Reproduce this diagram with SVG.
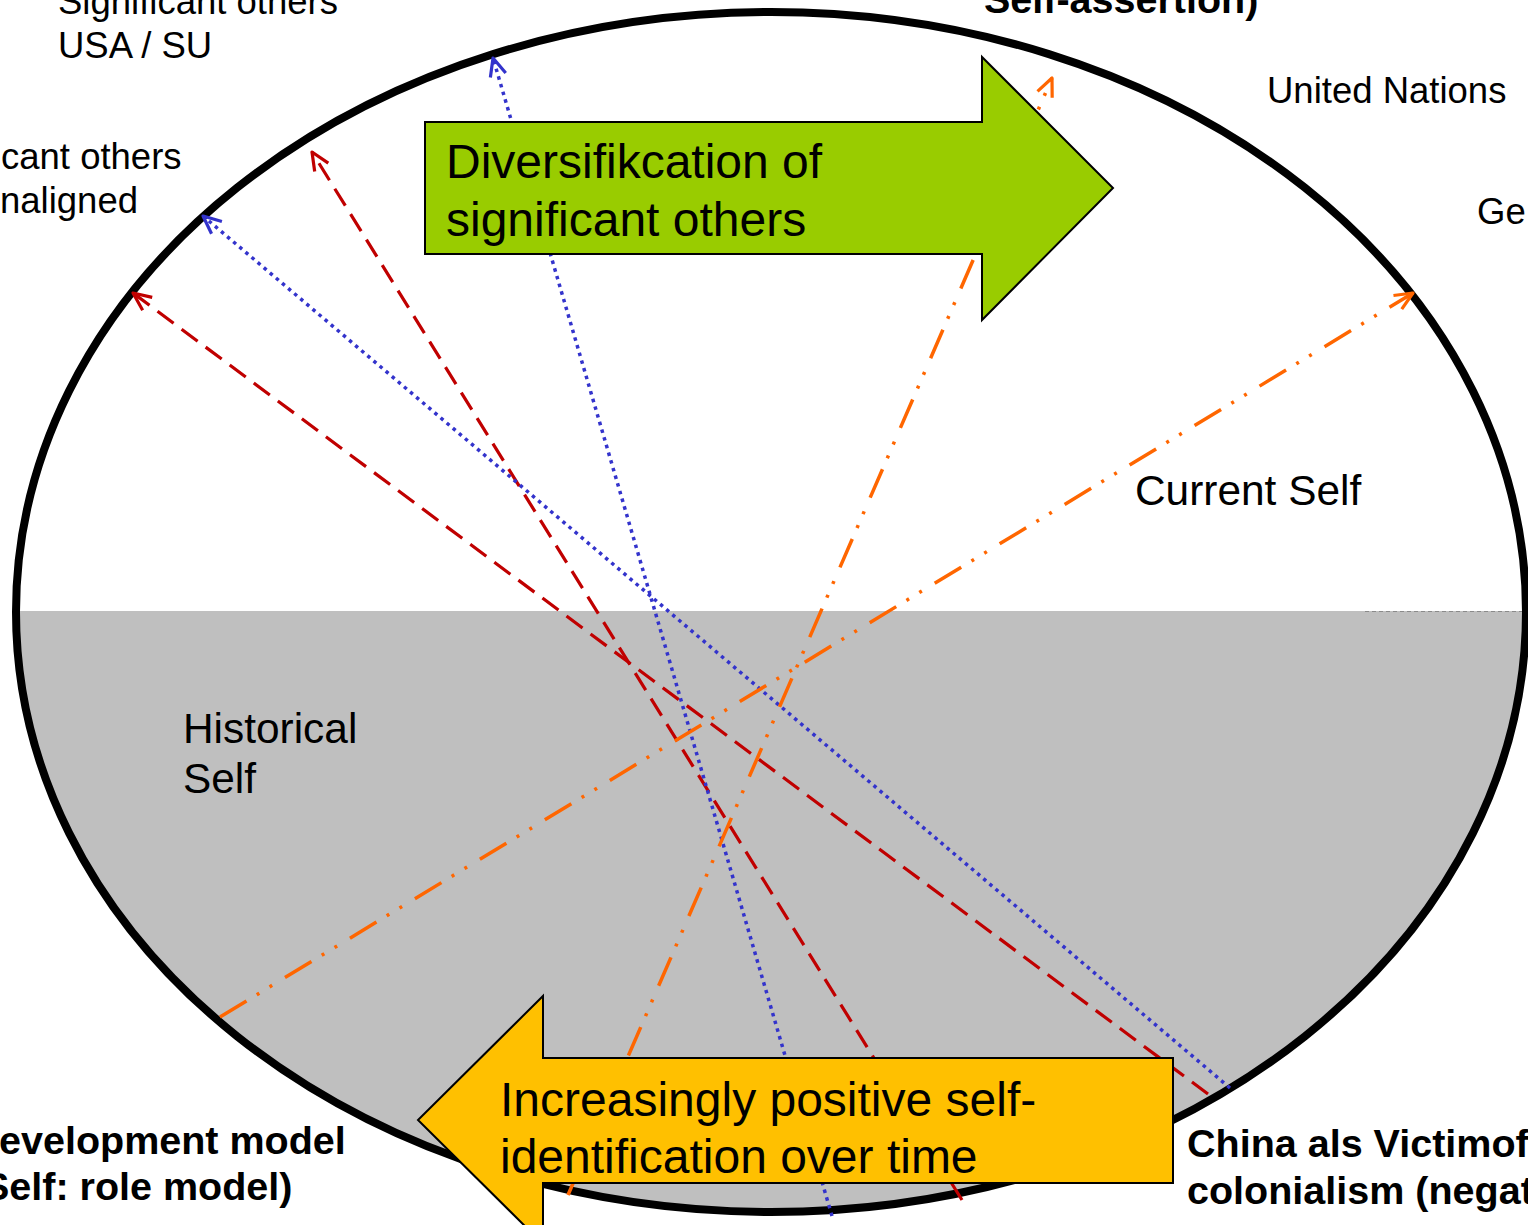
<svg xmlns="http://www.w3.org/2000/svg" width="1528" height="1225" viewBox="0 0 1528 1225">
<style>
  text { font-family: "Liberation Sans", Arial, sans-serif; fill: #000; }
  .lbl { font-size: 36.5px; }
  .big { font-size: 42.4px; }
  .bold { font-size: 39.5px; font-weight: bold; }
  .atxt { font-size: 48px; }
  .red { fill: none; stroke: #C00000; stroke-width: 3.2; stroke-dasharray: 20 10; }
  .blue { fill: none; stroke: #3333CC; stroke-width: 3.5; stroke-dasharray: 3.5 4.5; }
  .orange { fill: none; stroke: #FF6600; stroke-width: 3.5; stroke-dasharray: 31 12 3 12 3 15; }
  .block { stroke: #000; stroke-width: 2; stroke-linejoin: miter; }
</style>
<defs>
  <clipPath id="ellClip">
    <ellipse cx="771" cy="612" rx="755" ry="600"/>
  </clipPath>
  <marker id="mRed" viewBox="-22 -12 26 24" refX="0" refY="0" markerWidth="26" markerHeight="24" markerUnits="userSpaceOnUse" orient="auto" overflow="visible">
    <path d="M-18,-8 L0,0 L-18,8" fill="none" stroke="#C00000" stroke-width="3.2" stroke-linejoin="round"/>
  </marker>
  <marker id="mBlue" viewBox="-22 -12 26 24" refX="0" refY="0" markerWidth="26" markerHeight="24" markerUnits="userSpaceOnUse" orient="auto" overflow="visible">
    <path d="M-18,-8 L0,0 L-18,8" fill="none" stroke="#3333CC" stroke-width="3.2" stroke-linejoin="round"/>
  </marker>
  <marker id="mOrange" viewBox="-22 -12 26 24" refX="0" refY="0" markerWidth="26" markerHeight="24" markerUnits="userSpaceOnUse" orient="auto" overflow="visible">
    <path d="M-18,-8 L0,0 L-18,8" fill="none" stroke="#FF6600" stroke-width="3.2" stroke-linejoin="round"/>
  </marker>
</defs>

<g id="self-ellipse">
  <ellipse cx="771" cy="612" rx="755" ry="600" fill="#FFFFFF"/>
  <rect x="0" y="611" width="1528" height="620" fill="#BFBFBF" clip-path="url(#ellClip)"/>
  <line x1="1365" y1="611.5" x2="1522" y2="611.5" stroke="#8a8a8a" stroke-width="1" stroke-dasharray="4 3"/>
  <ellipse cx="771" cy="612" rx="755" ry="600" fill="none" stroke="#000" stroke-width="8"/>
</g>

<g id="connectors">
  <line class="red" x1="1208" y1="1094" x2="133" y2="293" marker-end="url(#mRed)"/>
  <line class="red" x1="962" y1="1200" x2="312" y2="152" marker-end="url(#mRed)"/>
  <line class="blue" x1="1230" y1="1088" x2="203" y2="216" marker-end="url(#mBlue)"/>
  <line class="blue" x1="832" y1="1216" x2="493" y2="58" marker-end="url(#mBlue)"/>
  <line class="orange" x1="220" y1="1017" x2="1413" y2="293" marker-end="url(#mOrange)"/>
  <line class="orange" x1="568" y1="1195" x2="1052" y2="78" marker-end="url(#mOrange)"/>
</g>

<g id="diversification-arrow">
  <polygon class="block" fill="#99CC00" points="425,122 982,122 982,57 1113,188 982,320 982,254 425,254"/>
  <text class="atxt" x="446" y="178">Diversifikcation of</text>
  <text class="atxt" x="446" y="236">significant others</text>
</g>

<g id="positive-arrow">
  <polygon class="block" fill="#FFC000" points="1173,1058 543,1058 543,996 418,1120 543,1244 543,1183 1173,1183"/>
  <text class="atxt" x="500" y="1116">Increasingly positive self-</text>
  <text class="atxt" x="500" y="1173">identification over time</text>
</g>

<g id="label-usa-su">
  <text class="lbl" x="58" y="14">Significant others</text>
  <text class="lbl" x="58" y="58">USA / SU</text>
</g>
<g id="label-nonaligned">
  <text class="lbl" x="1" y="169">cant others</text>
  <text class="lbl" x="0" y="213">naligned</text>
</g>
<g id="label-self-assertion">
  <text class="bold" x="984" y="13">Self-assertion)</text>
</g>
<g id="label-un">
  <text class="lbl" x="1267" y="103">United Nations</text>
</g>
<g id="label-ge">
  <text class="lbl" x="1477" y="224">Ge</text>
</g>
<g id="label-current-self">
  <text class="big" x="1135" y="505">Current Self</text>
</g>
<g id="label-historical-self">
  <text class="big" x="183" y="743">Historical</text>
  <text class="big" x="183" y="793">Self</text>
</g>
<g id="label-development-model">
  <text class="bold" x="-1" y="1154">evelopment model</text>
  <text class="bold" x="-17" y="1200">Self: role model)</text>
</g>
<g id="label-victim">
  <text class="bold" x="1187" y="1157">China als Victimof</text>
  <text class="bold" x="1187" y="1204">colonialism (negat</text>
</g>
</svg>
